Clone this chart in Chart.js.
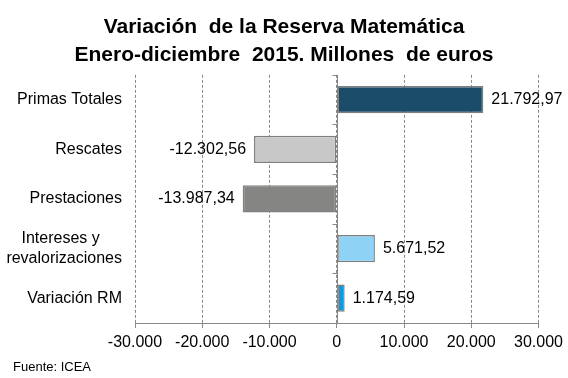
<!DOCTYPE html>
<html><head><meta charset="utf-8">
<script src="https://cdn.jsdelivr.net/npm/chart.js@4/dist/chart.umd.min.js"></script>
<style>html,body{margin:0;padding:0;background:#fff}#c{display:block}</style>
</head><body>
<canvas id="c" width="568" height="378"></canvas>
<script>
const titleLines = ['Variación  de la Reserva Matemática', 'Enero-diciembre  2015. Millones  de euros'];
const categories = ['Primas Totales', 'Rescates', 'Prestaciones', ['Intereses y     ', 'revalorizaciones'], 'Variación RM'];
const values = [21792.97, -12302.56, -13987.34, 5671.52, 1174.59];
const barColors = ['#1B4D6B', '#C8C8C8', '#858683', '#8ED2F6', '#0E9BDB'];
const xMin = -30000, xMax = 30000, xStep = 10000;
const sourceText = 'Fuente: ICEA';

const FONT = 'Liberation Sans, Arial, sans-serif';
Chart.defaults.font.family = FONT;
Chart.defaults.color = '#000';

function fmt(v, dec) {
  const neg = v < 0;
  const s = Math.abs(v).toFixed(dec);
  let [i, d] = s.split('.');
  i = i.replace(/\B(?=(\d{3})+(?!\d))/g, '.');
  return (neg ? '-' : '') + i + (d ? ',' + d : '');
}

const zeroLine = {
  id: 'zeroLine',
  beforeDatasetsDraw(chart) {
    const ctx = chart.ctx, xs = chart.scales.x, ys = chart.scales.y, ca = chart.chartArea;
    const x0 = Math.round(xs.getPixelForValue(0)) + 0.5;
    ctx.save();
    ctx.strokeStyle = '#888';
    ctx.lineWidth = 1;
    ctx.beginPath();
    ctx.moveTo(x0, ca.top);
    ctx.lineTo(x0, ca.bottom);
    for (let i = 0; i <= categories.length; i++) {
      const y = Math.round(ys.getPixelForValue(i - 0.5)) + 0.5;
      ctx.moveTo(x0 - 5, y);
      ctx.lineTo(x0, y);
    }
    ctx.stroke();
    ctx.restore();
  }
};

const valueLabels = {
  id: 'valueLabels',
  afterDatasetsDraw(chart) {
    const ctx = chart.ctx;
    const meta = chart.getDatasetMeta(0);
    ctx.save();
    ctx.font = '16px ' + FONT;
    ctx.fillStyle = '#000';
    ctx.textBaseline = 'middle';
    meta.data.forEach((bar, i) => {
      const v = values[i];
      ctx.textAlign = v >= 0 ? 'left' : 'right';
      ctx.fillText(fmt(v, 2), bar.x + (v >= 0 ? 8 : -8), bar.y);
    });
    ctx.restore();
  }
};

const sourceNote = {
  id: 'sourceNote',
  afterDraw(chart) {
    const ctx = chart.ctx;
    ctx.save();
    ctx.font = '13px ' + FONT;
    ctx.fillStyle = '#000';
    ctx.textAlign = 'left';
    ctx.textBaseline = 'middle';
    ctx.fillText(sourceText, 13, 367);
    ctx.restore();
  }
};

new Chart(document.getElementById('c'), {
  type: 'bar',
  data: {
    labels: categories,
    datasets: [{
      data: values,
      backgroundColor: barColors,
      borderColor: '#7F7F7F',
      borderWidth: 1.5,
      borderSkipped: false,
      barPercentage: 0.55,
      categoryPercentage: 1
    }]
  },
  options: {
    indexAxis: 'y',
    responsive: false,
    animation: false,
    layout: { padding: { left: 0, right: 0, top: 0, bottom: 0 } },
    plugins: {
      legend: { display: false },
      tooltip: { enabled: false },
      title: {
        display: true,
        text: titleLines,
        color: '#000',
        font: { family: FONT, size: 21, weight: 'bold', lineHeight: 1.33 },
        padding: { top: 13, bottom: 6 }
      }
    },
    scales: {
      x: {
        min: xMin, max: xMax,
        afterFit(scale) { scale.height = 55; },
        ticks: {
          stepSize: xStep,
          font: { size: 16 },
          color: '#000',
          padding: 5,
          callback: (v) => fmt(v, 0)
        },
        grid: { color: '#888', lineWidth: 1, tickColor: '#888', tickLength: 5, tickBorderDash: [] },
        border: { display: true, color: '#888', width: 1, dash: [3, 2] }
      },
      y: {
        afterFit(scale) { scale.width = 135; },
        grid: { display: false, drawTicks: false },
        border: { display: false },
        ticks: { font: { size: 16 }, color: '#000', padding: 13 }
      },
      rightSpace: {
        type: 'linear',
        position: 'right',
        display: true,
        afterFit(scale) { scale.width = 29; },
        grid: { display: false, drawTicks: false },
        border: { display: false },
        ticks: { display: false }
      }
    }
  },
  plugins: [zeroLine, valueLabels, sourceNote]
});
</script>
</body></html>
